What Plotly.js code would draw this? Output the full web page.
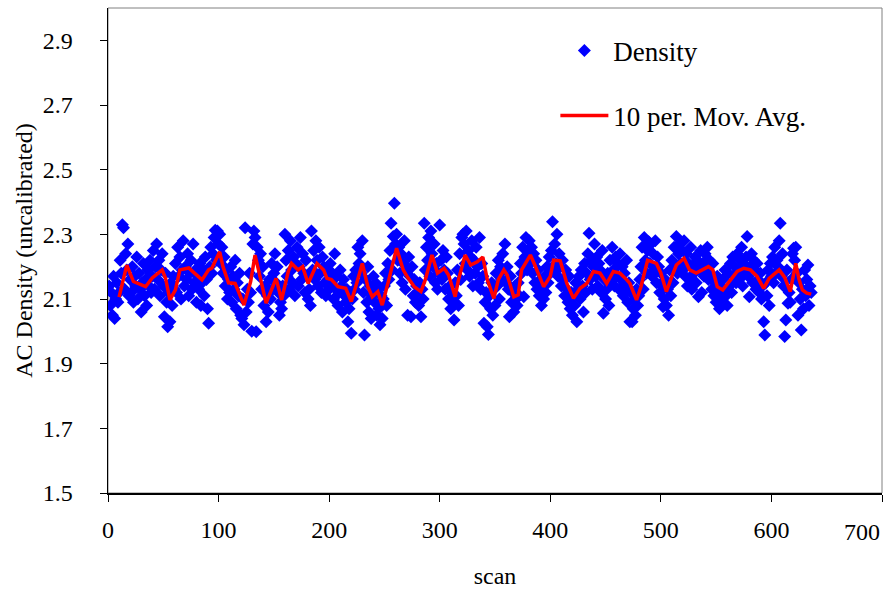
<!DOCTYPE html>
<html>
<head>
<meta charset="utf-8">
<script src="https://cdn.plot.ly/plotly-3.0.1.min.js"></script>
<style>html,body{margin:0;padding:0;background:#fff;}#chart{width:888px;height:594px;}</style>
</head>
<body>
<div id="chart"></div>
<script>
// Density values per scan (scan 1..636)
const density = [
2.14,2.08,2.12,2.05,2.17,2.04,2.10,2.15,2.09,2.12,2.22,2.18,2.33,2.32,2.13,2.24,2.19,2.27,2.11,2.16,
2.12,2.20,2.09,2.17,2.14,2.23,2.10,2.18,2.13,2.06,2.15,2.21,2.11,2.16,2.08,2.19,2.14,2.22,2.12,2.17,
2.25,2.13,2.20,2.27,2.16,2.22,2.11,2.19,2.24,2.14,2.045,2.18,2.09,2.014,2.12,2.03,2.15,2.08,2.17,2.13,
2.21,2.12,2.26,2.17,2.23,2.10,2.19,2.28,2.14,2.20,2.16,2.24,2.11,2.18,2.22,2.13,2.27,2.15,2.19,2.09,
2.17,2.13,2.21,2.08,2.15,2.19,2.11,2.23,2.16,2.07,2.025,2.20,2.26,2.18,2.24,2.29,2.313,2.22,2.31,2.27,
2.30,2.21,2.26,2.18,2.23,2.14,2.19,2.10,2.16,2.12,2.20,2.09,2.17,2.13,2.22,2.07,2.15,2.11,2.18,2.05,
2.04,2.10,2.02,2.32,2.06,2.13,2.09,2.18,2.12,2.00,2.27,2.31,2.29,1.999,2.26,2.22,2.17,2.24,2.13,2.20,
2.08,2.14,2.03,2.11,2.06,2.16,2.10,2.21,2.13,2.18,2.24,2.15,2.20,2.12,2.05,2.09,2.07,2.14,2.11,2.30,
2.22,2.17,2.25,2.13,2.28,2.19,2.15,2.23,2.11,2.21,2.26,2.14,2.20,2.29,2.16,2.24,2.18,2.12,2.22,2.17,
2.10,2.13,2.08,2.31,2.19,2.25,2.16,2.28,2.22,2.14,2.26,2.18,2.12,2.23,2.20,2.15,2.11,2.19,2.16,2.13,
2.21,2.15,2.18,2.10,2.24,2.13,2.17,2.08,2.12,2.19,2.14,2.06,2.16,2.11,2.09,2.13,2.03,2.07,2.12,1.994,
2.10,2.17,2.13,2.19,2.15,2.26,2.21,2.24,2.18,2.28,2.12,1.989,2.16,2.09,2.20,2.06,2.14,2.04,2.11,2.17,
2.09,2.15,2.05,2.13,2.07,2.02,2.11,2.04,2.10,2.14,2.18,2.08,2.21,2.16,2.25,2.334,2.19,2.293,2.396,2.27,
2.30,2.22,2.26,2.18,2.24,2.15,2.21,2.28,2.13,2.19,2.05,2.23,2.17,2.045,2.20,2.11,2.16,2.09,2.14,2.12,
2.08,2.15,2.045,2.13,2.10,2.334,2.19,2.26,2.22,2.29,2.17,2.31,2.24,2.20,2.27,2.15,2.21,2.13,2.18,2.329,
2.22,2.16,2.25,2.19,2.13,2.23,2.18,2.10,2.14,2.07,2.12,2.09,2.035,2.15,2.11,2.19,2.08,2.24,2.16,2.29,
2.30,2.27,2.21,2.31,2.19,2.25,2.17,2.23,2.28,2.14,2.22,2.18,2.26,2.20,2.15,2.29,2.13,2.21,2.17,2.025,
2.09,2.12,2.014,1.99,2.11,2.07,2.15,2.05,2.13,2.08,2.18,2.14,2.22,2.10,2.20,2.16,2.24,2.19,2.27,2.15,
2.20,2.13,2.045,2.17,2.09,2.12,2.06,2.14,2.10,2.08,2.15,2.11,2.21,2.18,2.26,2.107,2.23,2.29,2.19,2.25,
2.28,2.21,2.26,2.18,2.24,2.15,2.22,2.13,2.19,2.11,2.16,2.08,2.14,2.10,2.17,2.12,2.20,2.15,2.23,2.18,
2.25,2.339,2.19,2.27,2.21,2.30,2.17,2.24,2.20,2.14,2.22,2.16,2.11,2.19,2.13,2.09,2.17,2.07,2.12,2.05,
2.11,2.08,2.15,2.03,2.13,2.17,2.10,2.19,2.14,2.06,2.21,2.12,2.18,2.24,2.303,2.16,2.22,2.13,2.20,2.27,
2.17,2.23,2.14,2.21,2.19,2.12,2.25,2.056,2.16,2.10,2.13,2.18,2.08,2.22,2.15,2.26,2.19,2.14,2.23,2.17,
2.21,2.13,2.24,2.16,2.20,2.11,2.18,2.14,2.22,2.09,2.15,2.03,2.12,2.03,2.07,2.10,2.05,2.13,2.08,2.11,
2.16,2.20,2.26,2.13,2.29,2.22,2.18,2.25,2.277,2.21,2.27,2.17,2.24,2.19,2.28,2.15,2.23,2.20,2.12,2.18,
2.14,2.076,2.10,2.16,2.08,2.13,2.05,2.19,2.11,2.22,2.15,2.26,2.20,2.293,2.18,2.24,2.27,2.21,2.25,2.19,
2.28,2.17,2.24,2.14,2.21,2.16,2.26,2.13,2.20,2.18,2.23,2.15,2.22,2.107,2.19,2.25,2.12,2.21,2.17,2.24,
2.20,2.26,2.16,2.22,2.18,2.13,2.21,2.11,2.15,2.09,2.17,2.12,2.07,2.14,2.10,2.16,2.13,2.19,2.11,2.08,
2.18,2.14,2.21,2.12,2.23,2.17,2.20,2.15,2.24,2.19,2.16,2.22,2.26,2.14,2.21,2.18,2.23,2.293,2.17,2.107,
2.20,2.24,2.15,2.22,2.19,2.13,2.21,2.16,2.12,2.18,2.10,2.14,2.03,1.989,2.15,2.11,2.19,2.08,2.21,2.17,
2.23,2.15,2.26,2.18,2.22,2.20,2.28,2.334,2.17,2.24,2.14,1.984,2.035,2.19,2.087,2.12,2.09,2.16,2.24,2.257,
2.22,2.26,2.18,2.05,2.15,2.10,2.004,2.13,2.07,2.19,2.11,2.16,2.205,2.08,2.14,2.12
];
const scans = density.map((_, i) => i + 1);

// 10-period moving average
const maScan = [10,17,23,34,40,49,52,56,61,65,73,85,91,94,101,104,109,115,123,129,133,136,143,152,157,163,166,172,176,181,189,195,198,202,208,215,220,224,230,235,239,244,248,254,261,267,271,277,283,287,293,298,304,308,314,317,323,328,334,339,343,349,353,358,361,367,371,374,379,382,386,389,394,400,403,409,412,415,421,427,433,439,445,451,457,463,469,472,478,482,488,496,500,505,510,514,521,526,532,538,543,547,551,556,563,569,575,581,587,593,598,607,612,617,622,625,628,632,636];
const maValue = [2.106,2.205,2.154,2.138,2.165,2.19,2.165,2.097,2.128,2.19,2.196,2.159,2.19,2.196,2.246,2.2,2.15,2.148,2.081,2.154,2.236,2.19,2.087,2.164,2.097,2.185,2.21,2.19,2.2,2.148,2.21,2.19,2.164,2.16,2.138,2.133,2.092,2.138,2.21,2.138,2.107,2.123,2.081,2.16,2.257,2.19,2.167,2.138,2.123,2.16,2.236,2.18,2.195,2.174,2.107,2.16,2.236,2.205,2.215,2.23,2.16,2.102,2.16,2.19,2.174,2.107,2.113,2.19,2.22,2.236,2.205,2.18,2.138,2.17,2.22,2.218,2.18,2.148,2.102,2.133,2.148,2.185,2.18,2.148,2.185,2.18,2.16,2.148,2.097,2.138,2.22,2.21,2.18,2.123,2.17,2.205,2.226,2.19,2.18,2.19,2.2,2.19,2.138,2.128,2.16,2.185,2.195,2.19,2.17,2.133,2.164,2.19,2.167,2.123,2.21,2.16,2.128,2.118,2.115];

const xTicks = [0,100,200,300,400,500,600,700];
const xTickText = ['0','100','200','300','400','500','600',''];
const lastXLabel = '700';
const yTicks = [1.5,1.7,1.9,2.1,2.3,2.5,2.7,2.9];

const serif = 'Liberation Serif, Times New Roman, serif';

const traces = [
  {
    x: scans, y: density, type: 'scatter', mode: 'markers', name: 'Density',
    legendgroup: 'a',
    marker: {symbol: 'diamond', size: 10, color: '#0000FF', line: {width: 0}}
  },
  {
    x: maScan, y: maValue, type: 'scatter', mode: 'lines', name: '10 per. Mov. Avg.',
    legendgroup: 'b',
    line: {color: '#FF0000', width: 3.5}
  }
];

const layout = {
  width: 888, height: 594,
  margin: {l: 108, r: 6, t: 8, b: 101},
  paper_bgcolor: '#fff', plot_bgcolor: '#fff',
  font: {family: serif, color: '#000', size: 24},
  showlegend: true,
  legend: {
    x: 0.578, y: 0.962, xanchor: 'left', yanchor: 'top',
    bgcolor: 'rgba(0,0,0,0)', borderwidth: 0,
    font: {family: serif, size: 27, color: '#000'},
    traceorder: 'grouped', tracegroupgap: 27, itemwidth: 48
  },
  xaxis: {
    range: [0, 700], tickvals: xTicks, ticktext: xTickText,
    ticks: 'outside', ticklen: 7, tickcolor: '#000', tickwidth: 1,
    showline: true, linecolor: '#000', linewidth: 1.5,
    showgrid: false, zeroline: false, automargin: false,
    tickfont: {family: serif, size: 24, color: '#000'},
    ticklabelstandoff: 8,
    title: {text: 'scan', font: {family: serif, size: 24, color: '#000'}, standoff: 25}
  },
  yaxis: {
    range: [1.5, 3.0], tickvals: yTicks, ticktext: yTicks.map(v => v.toFixed(1)),
    ticks: 'outside', ticklen: 7, tickcolor: '#000', tickwidth: 1,
    showline: true, linecolor: '#000', linewidth: 1.5,
    showgrid: false, zeroline: false, automargin: false,
    tickfont: {family: serif, size: 24, color: '#000'},
    ticklabelstandoff: 22,
    title: {text: 'AC Density (uncalibrated)', font: {family: serif, size: 24, color: '#000'}, standoff: 3}
  },
  annotations: [
    {text: lastXLabel, x: xTicks[xTicks.length - 1], xref: 'x', xanchor: 'right',
     y: -0.08, yref: 'paper', yanchor: 'middle', showarrow: false,
     font: {family: serif, size: 24, color: '#000'}}
  ],
  shapes: [
    {type: 'rect', xref: 'paper', yref: 'paper', x0: 0, x1: 1, y0: 0, y1: 1,
     line: {color: '#808080', width: 1}, layer: 'below'}
  ]
};

Plotly.newPlot('chart', traces, layout, {displayModeBar: false, staticPlot: true});
</script>
</body>
</html>
